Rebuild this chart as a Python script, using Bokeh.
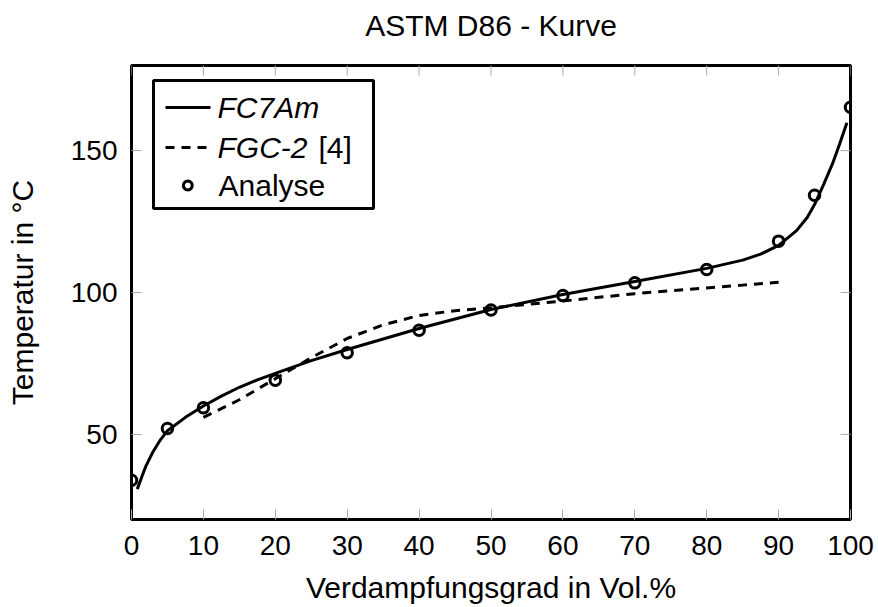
import numpy as np
from bokeh.plotting import figure
from bokeh.models import (Range1d, FixedTicker, BoxAnnotation, Label, LinearAxis,
                          Arrow, PolyAnnotation)
from bokeh.embed import file_html
from bokeh.resources import INLINE

# ---- data ----
analyse_x = [0, 5, 10, 20, 30, 40, 50, 60, 70, 80, 90, 95, 100]
analyse_y = [33.8, 52.1, 59.4, 69.1, 78.8, 86.7, 93.8, 98.9, 103.4, 108.1, 118.1, 134.3, 165.3]

fc7am_x = [0.8, 1.5, 2, 3, 4, 5, 7.5, 10, 12.5, 15, 17.5, 20, 25, 30, 40, 50, 60, 70, 80, 85,
           87.5, 90, 92.5, 94, 95, 96.3, 97.5, 98.5, 99.5]
fc7am_y = [30.7, 35.5, 38.8, 43.9, 48.0, 51.3, 56.0, 60.0, 63.5, 66.6, 69.2, 71.5, 76.0, 79.9,
           87.3, 94.0, 99.3, 103.9, 108.5, 111.4, 113.5, 116.6, 121.8, 126.5, 131.0, 138.3,
           145.4, 152.4, 159.8]

fgc2_x = [10, 15, 20, 25, 30, 35, 40, 45, 50, 55, 60, 65, 70, 75, 80, 85, 90]
fgc2_y = [56.0, 62.2, 69.6, 77.0, 83.8, 88.6, 91.9, 93.6, 94.6, 95.8, 97.0, 98.3, 99.6, 100.6,
          101.6, 102.6, 103.6]

x_ticks = [0, 10, 20, 30, 40, 50, 60, 70, 80, 90, 100]
y_ticks = [50, 100, 150]

TITLE = "ASTM D86 - Kurve"
FONT = "Liberation Sans"

p = figure(width=878, height=607, output_backend="svg", toolbar_location=None,
           x_range=Range1d(0, 100), y_range=Range1d(20, 180),
           min_border_left=131, min_border_right=28, min_border_top=65, min_border_bottom=88,
           x_axis_label="Verdampfungsgrad in Vol.%", y_axis_label="Temperatur in °C")
p.grid.visible = False
p.outline_line_color = "black"
p.outline_line_width = 3
p.background_fill_color = "white"
p.border_fill_color = "white"

for ax, ticks in ((p.xaxis[0], x_ticks), (p.yaxis[0], y_ticks)):
    ax.ticker = FixedTicker(ticks=ticks)
    ax.axis_line_color = None
    ax.major_tick_in = 10
    ax.major_tick_out = 0
    ax.major_tick_line_color = "#aaaaaa"
    ax.major_tick_line_width = 1
    ax.minor_tick_line_color = None
    ax.major_label_text_font = FONT
    ax.major_label_text_font_size = "28px"
    ax.major_label_text_color = "black"
    ax.axis_label_text_font = FONT
    ax.axis_label_text_font_size = "30px"
    ax.axis_label_text_font_style = "normal"
    ax.axis_label_text_color = "black"
    ax.major_label_standoff = 14

p.xaxis[0].major_label_standoff = 16
p.xaxis[0].axis_label_standoff = 13
p.yaxis[0].axis_label_standoff = 29

# title drawn as the label of a tick-less axis above the frame
title_axis = LinearAxis(ticker=FixedTicker(ticks=[]), axis_label=TITLE)
title_axis.axis_line_color = None
title_axis.major_tick_line_color = None
title_axis.minor_tick_line_color = None
title_axis.major_label_standoff = 0
title_axis.axis_label_standoff = 24
title_axis.axis_label_text_font = FONT
title_axis.axis_label_text_font_size = "30px"
title_axis.axis_label_text_font_style = "normal"
title_axis.axis_label_text_color = "black"
p.add_layout(title_axis, "above")

# mirrored inner ticks on top and right edges (clipped to the frame)
p.scatter(x_ticks, [p.y_range.end] * len(x_ticks), marker="dash", size=20, angle=np.pi / 2,
          line_color="#aaaaaa", line_width=1)
p.scatter([p.x_range.end] * len(y_ticks), y_ticks, marker="dash", size=20,
          line_color="#aaaaaa", line_width=1)

# ---- series ----
p.line(fc7am_x, fc7am_y, line_color="black", line_width=3)
p.line(fgc2_x, fgc2_y, line_color="black", line_width=3, line_dash="9 7")
p.scatter(analyse_x, analyse_y, marker="circle", size=10.5, fill_color=None,
          line_color="black", line_width=3)

# ---- legend (screen units relative to frame) ----
box = BoxAnnotation(left=22, right=242, bottom=311, top=439,
                    left_units="screen", right_units="screen",
                    bottom_units="screen", top_units="screen",
                    fill_color="white", fill_alpha=1.0,
                    line_color="black", line_width=3, line_alpha=1.0)
p.add_layout(box)
p.add_layout(Arrow(end=None, x_start=34, y_start=412, x_end=79, y_end=412,
                   start_units="screen", end_units="screen",
                   line_color="black", line_width=3))
p.add_layout(Arrow(end=None, x_start=34, y_start=372, x_end=79, y_end=372,
                   start_units="screen", end_units="screen",
                   line_color="black", line_width=3, line_dash="9 7"))
theta = np.linspace(0, 2 * np.pi, 40)
p.add_layout(PolyAnnotation(xs=list(56.3 + 4.4 * np.cos(theta)), ys=list(334 + 4.4 * np.sin(theta)),
                            xs_units="screen", ys_units="screen",
                            fill_color=None, fill_alpha=0, line_color="black",
                            line_alpha=1.0, line_width=3))

def lab(x, y, t, style):
    p.add_layout(Label(x=x, y=y, x_units="screen", y_units="screen", text=t,
                       text_font=FONT, text_font_size="30px", text_font_style=style,
                       text_baseline="middle", text_align="left", text_color="black"))

lab(86, 412, "FC7Am", "italic")
lab(86, 372, "FGC-2", "italic")
lab(187, 372, "[4]", "normal")
lab(87, 334, "Analyse", "normal")

open("out.html", "w").write(file_html(p, INLINE))
